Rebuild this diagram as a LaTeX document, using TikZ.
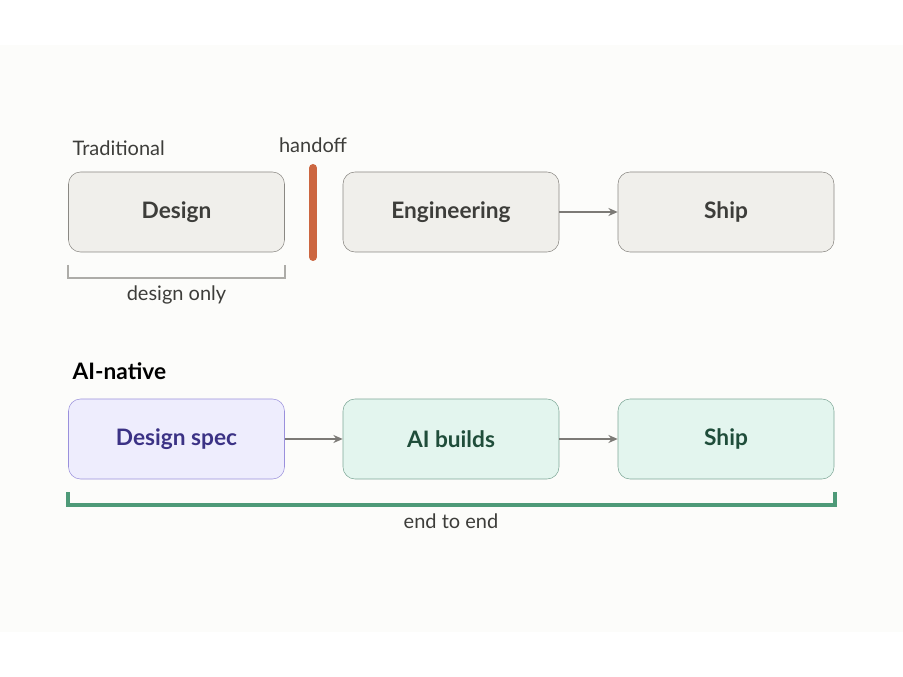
\documentclass[tikz,border=0pt]{standalone}
\usepackage{fontspec}
\setmainfont{Lato}
\usetikzlibrary{positioning}
\definecolor{panel}{HTML}{FCFCFA}
\definecolor{greyfill}{HTML}{F0EFEB}
\definecolor{greyline}{HTML}{8A8883}
\definecolor{ink}{HTML}{3D3D3A}
\definecolor{purplefill}{HTML}{EEEDFD}
\definecolor{purpleline}{HTML}{9A90DC}
\definecolor{purpletext}{HTML}{3B3285}
\definecolor{greenfill}{HTML}{E3F5EE}
\definecolor{greenline}{HTML}{7FA898}
\definecolor{greentext}{HTML}{1F4D3A}
\definecolor{handoffred}{HTML}{CC6640}
\definecolor{bracketgreen}{HTML}{4E9A78}
\tikzset{
  stage/.style={draw=greyline, fill=greyfill, rounded corners=9pt, minimum width=162pt,
    minimum height=60pt, font=\fontsize{17}{19}\selectfont\bfseries, text=ink},
  aistage/.style={stage, draw=greenline, fill=greenfill, text=greentext},
  flow/.style={-{Stealth[length=7pt,width=6pt]}, draw=greyline!90!black, line width=1.5pt},
  caption/.style={font=\fontsize{15}{17}\selectfont, text=ink}
}
\usetikzlibrary{arrows.meta}
\begin{document}
\begin{tikzpicture}[x=0.75pt,y=-0.75pt]
  \useasboundingbox[fill=white] (0,0) rectangle (903,677);
  \fill[panel] (0,45) rectangle (903,632);
  % traditional
  \node[caption, anchor=west] (trad) at (68,148) {Traditional};
  \node[stage] (design) at (176.5,212) {Design};
  \node[stage] (eng) at (451,212) {Engineering};
  \node[stage] (ship) at (726,212) {Ship};
  \draw[flow] (eng) -- (ship);
  \draw[handoffred, line width=6pt, line cap=round] (313,168) -- (313,257);
  \node[caption] (handoff) at (313,145) {handoff};
  \draw[greyline!70, line width=2pt] (68,265) |- (285,278) -- (285,265);
  \node[caption, fill=panel, inner sep=3pt] (donly) at (176.5,295) {design only};
  % ai-native
  \node[font=\fontsize{17}{19}\selectfont\bfseries, anchor=west] (ainative) at (68,371) {AI-native};
  \node[stage, draw=purpleline, fill=purplefill, text=purpletext] (spec) at (176.5,439) {Design spec};
  \node[aistage] (build) at (451,439) {AI builds};
  \node[aistage] (ship2) at (726,439) {Ship};
  \draw[flow] (spec) -- (build);
  \draw[flow] (build) -- (ship2);
  \draw[bracketgreen, line width=3pt] (68,492) |- (835,505) -- (835,492);
  \node[caption, fill=panel, inner sep=3pt] (e2e) at (451,521) {end to end};
\end{tikzpicture}
\end{document}
